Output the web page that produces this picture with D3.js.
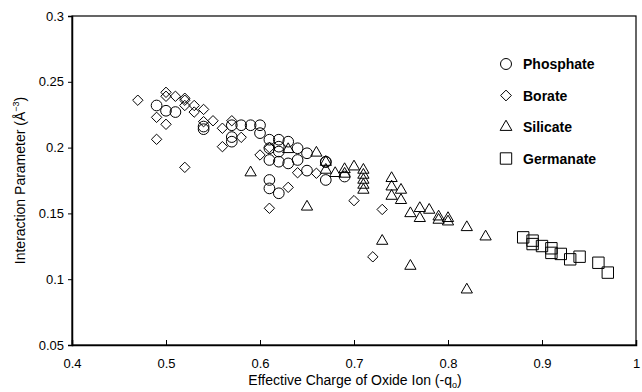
<!DOCTYPE html>
<html>
<head>
<meta charset="utf-8">
<script src="https://cdn.jsdelivr.net/npm/d3@7"></script>
<style>
	body { margin: 0; background: #fff; }
	text { font-family: "Liberation Sans", Arial, sans-serif; }
</style>
</head>
<body>
<svg width="642" height="392"></svg>
<script>
// Interaction parameter vs effective charge of oxide ion

const xTicks = [0.4, 0.5, 0.6, 0.7, 0.8, 0.9, 1];
const yTicks = [0.05, 0.1, 0.15, 0.2, 0.25, 0.3];

// Phosphate (circles)
const phosphateX = [0.49, 0.50, 0.51, 0.54, 0.54, 0.57, 0.57, 0.57, 0.58, 0.59, 0.60, 0.60,
	0.61, 0.62, 0.63, 0.62, 0.61, 0.64, 0.62, 0.65, 0.61, 0.62, 0.63, 0.64, 0.67, 0.67,
	0.65, 0.67, 0.61, 0.61, 0.62, 0.69];
const phosphateY = [0.232, 0.228, 0.227, 0.216, 0.214, 0.217, 0.208, 0.2045, 0.217, 0.217, 0.217, 0.211,
	0.206, 0.206, 0.2045, 0.2007, 0.1995, 0.1995, 0.197, 0.1957, 0.1906, 0.1893, 0.188, 0.1906, 0.1893, 0.189,
	0.1825, 0.1754, 0.1754, 0.169, 0.1653, 0.178];

// Borate (diamonds)
const borateX = [0.47, 0.50, 0.50, 0.51, 0.52, 0.52, 0.52, 0.53, 0.53, 0.54, 0.54, 0.55,
	0.49, 0.50, 0.49, 0.52, 0.56, 0.56, 0.57, 0.58, 0.60, 0.61, 0.64, 0.66, 0.63, 0.61,
	0.70, 0.73, 0.72];
const borateY = [0.236, 0.242, 0.239, 0.239, 0.2375, 0.236, 0.232, 0.232, 0.227, 0.229, 0.2197, 0.2204,
	0.223, 0.2177, 0.2063, 0.185, 0.2147, 0.2007, 0.2204, 0.2078, 0.1944, 0.200, 0.1809, 0.1805, 0.1698, 0.1539,
	0.1597, 0.153, 0.117];

// Silicate (triangles)
const silicateX = [0.59, 0.63, 0.66, 0.67, 0.65, 0.67, 0.68, 0.69, 0.69, 0.70, 0.71, 0.71,
	0.71, 0.71, 0.71, 0.74, 0.74, 0.75, 0.74, 0.75, 0.76, 0.77, 0.77, 0.78, 0.79, 0.79,
	0.80, 0.80, 0.82, 0.84, 0.73, 0.76, 0.82];
const silicateY = [0.181, 0.1987, 0.196, 0.183, 0.155, 0.189, 0.1805, 0.1835, 0.180, 0.1855, 0.183, 0.1792,
	0.1754, 0.1716, 0.1678, 0.1767, 0.1703, 0.1678, 0.1632, 0.160, 0.150, 0.1539, 0.1463, 0.1526, 0.1475, 0.145,
	0.1463, 0.1437, 0.1394, 0.1323, 0.129, 0.110, 0.092];

// Germanate (squares)
const germanateX = [0.88, 0.89, 0.89, 0.90, 0.91, 0.91, 0.92, 0.93, 0.94, 0.96, 0.97];
const germanateY = [0.1318, 0.1293, 0.1267, 0.1252, 0.1235, 0.120, 0.1192, 0.1151, 0.1171, 0.1125, 0.105];

const seriesNames = ['Phosphate', 'Borate', 'Silicate', 'Germanate'];

const width = 642;
const height = 392;
const margin = { top: 16, right: 6, bottom: 47, left: 72 };

const svg = d3.select('svg');

const x = d3.scaleLinear().domain([0.4, 1]).range([margin.left, width - margin.right]);
const y = d3.scaleLinear().domain([0.05, 0.3]).range([height - margin.bottom, margin.top]);

// diamond as a square turned 45 degrees
const diamond = {
	draw(context, size) {
		const r = Math.sqrt(size / 2);
		context.moveTo(0, -r);
		context.lineTo(r, 0);
		context.lineTo(0, r);
		context.lineTo(-r, 0);
		context.closePath();
	}
};

const shapes = {
	Phosphate: d3.symbol(d3.symbolCircle, 90),
	Borate: d3.symbol(diamond, 54),
	Silicate: d3.symbol(d3.symbolTriangle, 55),
	Germanate: d3.symbol(d3.symbolSquare, 130)
};
const legendShapes = {
	Phosphate: d3.symbol(d3.symbolCircle, 95),
	Borate: d3.symbol(diamond, 58),
	Silicate: d3.symbol(d3.symbolTriangle, 60),
	Germanate: d3.symbol(d3.symbolSquare, 130)
};

const seriesData = [
	{ name: 'Phosphate', xs: phosphateX, ys: phosphateY },
	{ name: 'Borate', xs: borateX, ys: borateY },
	{ name: 'Silicate', xs: silicateX, ys: silicateY },
	{ name: 'Germanate', xs: germanateX, ys: germanateY }
];

// frame
svg.append('rect')
	.attr('x', x(0.4))
	.attr('y', y(0.3))
	.attr('width', x(1) - x(0.4))
	.attr('height', y(0.05) - y(0.3))
	.attr('fill', 'none')
	.attr('stroke', '#000')
	.attr('stroke-width', 1.2);

// x axis, ticks pointing inside
const xAxis = svg.append('g')
	.attr('transform', `translate(0,${y(0.05)})`)
	.call(d3.axisBottom(x).tickValues(xTicks).tickSize(-5).tickPadding(14).tickFormat(d3.format('')));
// y axis, ticks pointing outside
const yAxis = svg.append('g')
	.attr('transform', `translate(${x(0.4)},0)`)
	.call(d3.axisLeft(y).tickValues(yTicks).tickSize(4).tickPadding(4).tickFormat(d3.format('')));

[xAxis, yAxis].forEach((ax) => {
	ax.select('.domain').attr('stroke-width', 1.5);
	ax.selectAll('text').attr('font-size', 13).attr('fill', '#000')
		.style('font-family', '"Liberation Sans", Arial, sans-serif');
});

// points
seriesData.forEach((s) => {
	svg.append('g')
		.selectAll('path')
		.data(s.xs.map((v, i) => [v, s.ys[i]]))
		.join('path')
		.attr('transform', (d) => `translate(${x(d[0])},${y(d[1])})`)
		.attr('d', shapes[s.name])
		.attr('fill', 'none')
		.attr('stroke', '#000')
		.attr('stroke-width', 1);
});

// legend
const legend = svg.append('g');
seriesNames.forEach((name, i) => {
	const ly = 64 + i * 31.5;
	legend.append('path')
		.attr('transform', `translate(506,${ly})`)
		.attr('d', legendShapes[name])
		.attr('fill', 'none')
		.attr('stroke', '#000')
		.attr('stroke-width', 1);
	legend.append('text')
		.attr('x', 523)
		.attr('y', ly + 5)
		.attr('font-size', 14)
		.attr('font-weight', 'bold')
		.text(name);
});

// axis titles
const xt = svg.append('text')
	.attr('x', 355)
	.attr('y', 385)
	.attr('text-anchor', 'middle')
	.attr('font-size', 14);
xt.append('tspan').text('Effective Charge of Oxide Ion (-q');
xt.append('tspan').attr('font-size', 9).attr('dy', 3).text('o');
xt.append('tspan').attr('dy', -3).text(')');

const yt = svg.append('text')
	.attr('transform', `translate(25,${(y(0.05) + y(0.3)) / 2}) rotate(-90)`)
	.attr('text-anchor', 'middle')
	.attr('font-size', 14);
yt.append('tspan').text('Interaction Parameter (Å');
yt.append('tspan').attr('font-size', 9).attr('dy', -6).text('−3');
yt.append('tspan').attr('dy', 6).text(')');
</script>
</body>
</html>
